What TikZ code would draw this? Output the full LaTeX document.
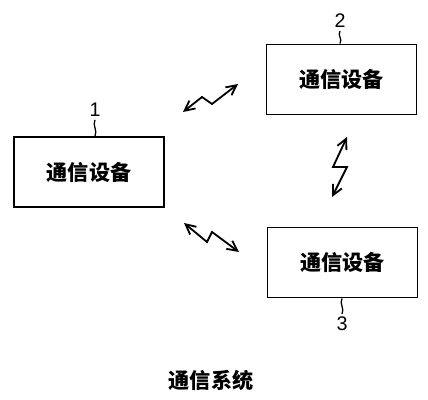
\documentclass[tikz,border=0pt]{standalone}
\usepackage{fontspec}
\setmainfont{Liberation Sans}
\newfontfamily\cjk{Noto Sans CJK SC}
\usetikzlibrary{positioning,arrows.meta}

\tikzset{
  device/.style={draw, line width=1.3pt, minimum width=3.75cm, minimum height=1.75cm,
    inner sep=0pt, font=\cjk\bfseries\fontsize{15}{18}\selectfont},
  refnum/.style={inner sep=0pt, font=\fontsize{14}{16}\selectfont},
  spark/.style={line width=1.3pt, {Straight Barb[length=2.5mm,width=2.5mm]}-{Straight Barb[length=2.5mm,width=2.5mm]}},
  squiggle/.style={line width=0.9pt}
}

\begin{document}
\begin{tikzpicture}[x=0.025cm,y=-0.025cm]
    \useasboundingbox (0,0) rectangle (428,400);

    % Devices
    \node[device] (dev1) at (89,172) {通信设备};
    \node[device] (dev2) at (341.5,79.5) {通信设备};
    \node[device] (dev3) at (342.5,262.5) {通信设备};

    % Reference numerals
    \node[refnum] (num1) at (95,110) {1};
    \node[refnum] (num2) at (340,21) {2};
    \node[refnum] (num3) at (342,324) {3};
    \draw[squiggle] (num1.south |- dev1.north) .. controls +(3,-5) and +(-3,5) .. ([yshift=-2pt]num1.south);
    \draw[squiggle] (num2.south |- dev2.north) .. controls +(3,-5) and +(-3,5) .. ([yshift=-2pt]num2.south);
    \draw[squiggle] (num3.north |- dev3.south) .. controls +(-3,5) and +(3,-5) .. ([yshift=2pt]num3.north);

    % Radio links
    \coordinate (a12) at (183,112);
    \coordinate (b12) at (238,84);
    \draw[spark] (a12) -- (202,97) -- (212,104) -- (b12);

    \coordinate (a13) at (184,223);
    \coordinate (b13) at (239,252);
    \draw[spark] (a13) -- (207,242) -- (212,232) -- (b13);

    \coordinate (a23) at (347,137);
    \coordinate (b23) at (332,197);
    \draw[spark] (a23) -- (333,167) -- (347,167) -- (b23);

    % Caption
    \node[font=\cjk\bfseries\fontsize{15}{18}\selectfont] (title) at (211,380) {通信系统};
\end{tikzpicture}
\end{document}
